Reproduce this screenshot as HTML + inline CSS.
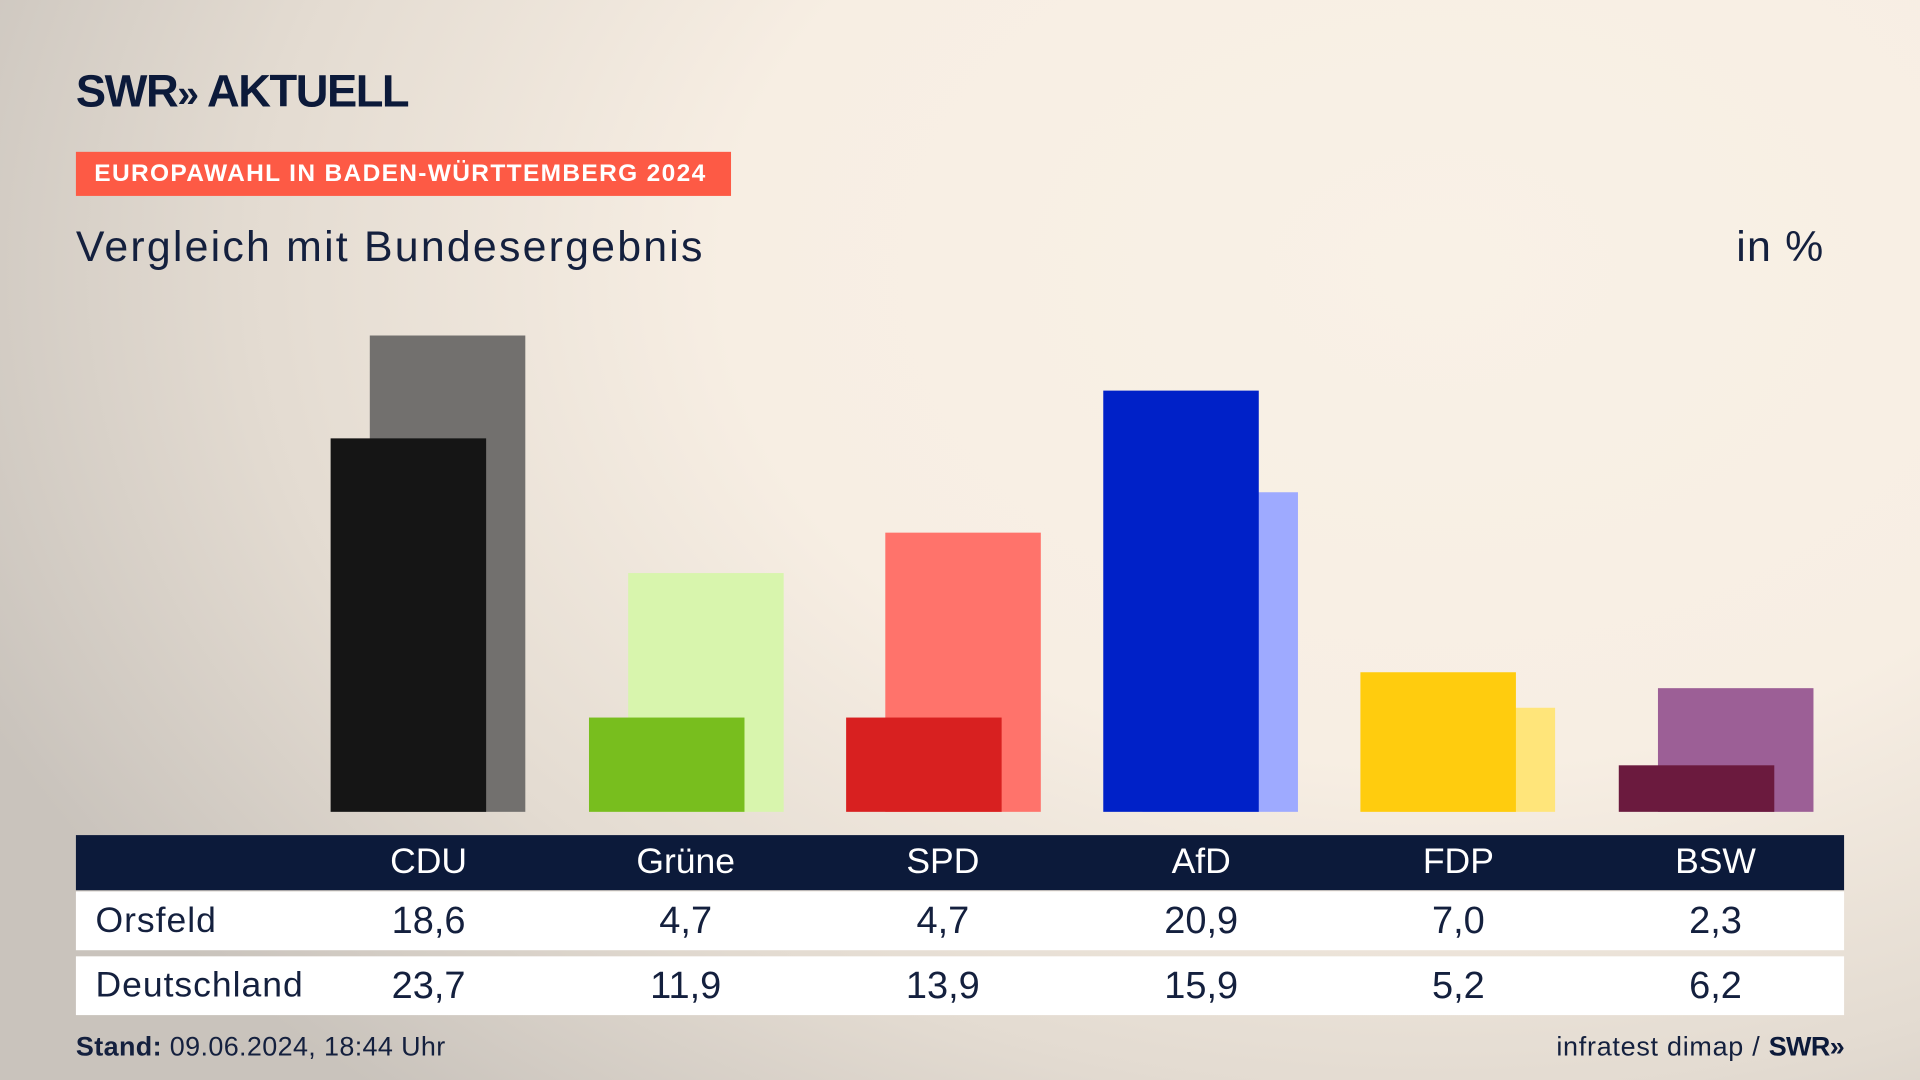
<!DOCTYPE html>
<html><head><meta charset="utf-8"><style>
html,body{margin:0;padding:0;width:1920px;height:1080px;overflow:hidden}
body{background:#f8efe4}
#w{position:absolute;left:0;top:0;width:1568px;height:882px;transform:scale(1.22449);transform-origin:0 0;
background:radial-gradient(ellipse 1300px 900px at 75% 25%,#f9f1e6 0%,#f7eee3 45%,#e3dbd1 75%,#c9c3bc 100%);
font-family:"Liberation Sans",sans-serif;color:#14203e}
.a{position:absolute}
.b{position:absolute;bottom:219px}
.c{position:absolute;width:210px;text-align:center;font-size:29px}
</style></head><body><div id="w">
<div class="a" style="left:62px;top:54px;font-size:37px;font-weight:bold;letter-spacing:-1.2px;color:#0c1a3a">SWR<span style="font-size:32px">»</span> AKTUELL</div>
<div class="a" style="left:62px;top:124px;width:535px;height:36px;background:#fd5a45;color:#fff;font-weight:bold;font-size:20px;line-height:37px;text-indent:15px;letter-spacing:1.1px">EUROPAWAHL IN BADEN-WÜRTTEMBERG 2024</div>
<div class="a" style="left:62px;top:182px;font-size:35px;letter-spacing:1.8px">Vergleich mit Bundesergebnis</div>
<div class="a" style="left:1380px;width:110px;text-align:right;top:182px;font-size:35px;letter-spacing:1px">in %</div>

<div class="b" style="left:302px;width:127px;height:389px;background:#72706e"></div>
<div class="b" style="left:270px;width:127px;height:305px;background:#151515"></div>
<div class="b" style="left:513px;width:127px;height:195px;background:#d8f5ad"></div>
<div class="b" style="left:481px;width:127px;height:77px;background:#78be1e"></div>
<div class="b" style="left:723px;width:127px;height:228px;background:#ff736b"></div>
<div class="b" style="left:691px;width:127px;height:77px;background:#d82020"></div>
<div class="b" style="left:933px;width:127px;height:261px;background:#9eaaff"></div>
<div class="b" style="left:901px;width:127px;height:344px;background:#0021c8"></div>
<div class="b" style="left:1143px;width:127px;height:85px;background:#ffe57a"></div>
<div class="b" style="left:1111px;width:127px;height:114px;background:#ffcc0e"></div>
<div class="b" style="left:1354px;width:127px;height:101px;background:#9c5f96"></div>
<div class="b" style="left:1322px;width:127px;height:38px;background:#6b1a3e"></div>

<div class="a" style="left:62px;top:682px;width:1444px;height:45px;background:#0c1a3a"></div>
<div class="a" style="left:62px;top:728px;width:1444px;height:48px;background:#fff"></div>
<div class="a" style="left:62px;top:781px;width:1444px;height:48px;background:#fff"></div>
<div class="a" style="left:78px;top:736px;font-size:29px;letter-spacing:0.8px">Orsfeld</div>
<div class="a" style="left:78px;top:789px;font-size:29px;letter-spacing:0.8px">Deutschland</div>

<div class="c" style="left:245px;top:688px;color:#fff">CDU</div>
<div class="c" style="left:455px;top:688px;color:#fff">Grüne</div>
<div class="c" style="left:665px;top:688px;color:#fff">SPD</div>
<div class="c" style="left:876px;top:688px;color:#fff">AfD</div>
<div class="c" style="left:1086px;top:688px;color:#fff">FDP</div>
<div class="c" style="left:1296px;top:688px;color:#fff">BSW</div>

<div class="c" style="left:245px;top:734px;font-size:31px">18,6</div>
<div class="c" style="left:455px;top:734px;font-size:31px">4,7</div>
<div class="c" style="left:665px;top:734px;font-size:31px">4,7</div>
<div class="c" style="left:876px;top:734px;font-size:31px">20,9</div>
<div class="c" style="left:1086px;top:734px;font-size:31px">7,0</div>
<div class="c" style="left:1296px;top:734px;font-size:31px">2,3</div>

<div class="c" style="left:245px;top:787px;font-size:31px">23,7</div>
<div class="c" style="left:455px;top:787px;font-size:31px">11,9</div>
<div class="c" style="left:665px;top:787px;font-size:31px">13,9</div>
<div class="c" style="left:876px;top:787px;font-size:31px">15,9</div>
<div class="c" style="left:1086px;top:787px;font-size:31px">5,2</div>
<div class="c" style="left:1296px;top:787px;font-size:31px">6,2</div>

<div class="a" style="left:62px;top:842px;font-size:22px;letter-spacing:0.3px"><b>Stand:</b> 09.06.2024, 18:44 Uhr</div>
<div class="a" style="left:1100px;width:406px;text-align:right;top:842px;font-size:22px;letter-spacing:0.6px">infratest dimap / <b style="color:#0c1a3a;letter-spacing:-0.5px">SWR»</b></div>
</div></body></html>
